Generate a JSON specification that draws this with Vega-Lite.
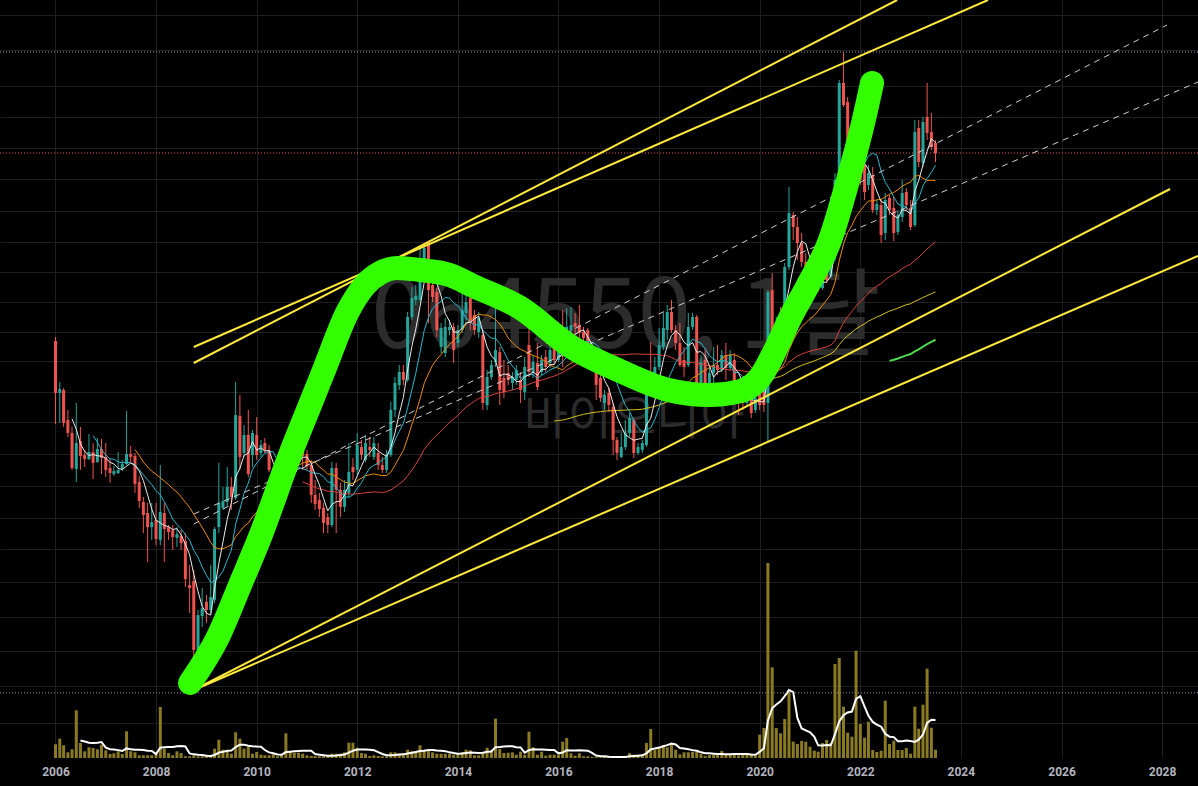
{
"$schema":"https://vega.github.io/schema/vega-lite/v6.json",
"width":1198,"height":758,
"autosize":{"type":"none"},
"padding":{"left":0,"top":0,"right":0,"bottom":28},
"background":"#000000",
"config":{"view":{"stroke":null},"scale":{"continuousPadding":0}},
"datasets":{
"k":[
{"d":"2006-01","o":18950,"h":19390,"l":11750,"c":14050,"v":6850},
{"d":"2006-02","o":14050,"h":14960,"l":11820,"c":14370,"v":9650},
{"d":"2006-03","o":14290,"h":14450,"l":11550,"c":11820,"v":6350},
{"d":"2006-04","o":12020,"h":12740,"l":10900,"c":11160,"v":2850},
{"d":"2006-05","o":11160,"h":11550,"l":9020,"c":9120,"v":4350},
{"d":"2006-06","o":9070,"h":13260,"l":8410,"c":10530,"v":23850},
{"d":"2006-07","o":10650,"h":11550,"l":9020,"c":9770,"v":7500},
{"d":"2006-08","o":9830,"h":10120,"l":9170,"c":9600,"v":3350},
{"d":"2006-09","o":9600,"h":11090,"l":9550,"c":10000,"v":5350},
{"d":"2006-10","o":10000,"h":10530,"l":8560,"c":9390,"v":5000},
{"d":"2006-11","o":9440,"h":10840,"l":9390,"c":10170,"v":4350},
{"d":"2006-12","o":10170,"h":10780,"l":8810,"c":9660,"v":6650},
{"d":"2007-01","o":9720,"h":10530,"l":8660,"c":9020,"v":3850},
{"d":"2007-02","o":9120,"h":9600,"l":8370,"c":8860,"v":2000},
{"d":"2007-03","o":8810,"h":9230,"l":8710,"c":8960,"v":2350},
{"d":"2007-04","o":8860,"h":10000,"l":8810,"c":9020,"v":3350},
{"d":"2007-05","o":9070,"h":9550,"l":8960,"c":9330,"v":2000},
{"d":"2007-06","o":9330,"h":12660,"l":9280,"c":9890,"v":13350},
{"d":"2007-07","o":9890,"h":10350,"l":9440,"c":9720,"v":3350},
{"d":"2007-08","o":9770,"h":9940,"l":7900,"c":8320,"v":2850},
{"d":"2007-09","o":8410,"h":8710,"l":7250,"c":7540,"v":1350},
{"d":"2007-10","o":7500,"h":7720,"l":6270,"c":6960,"v":1350},
{"d":"2007-11","o":7040,"h":7460,"l":5310,"c":6490,"v":1350},
{"d":"2007-12","o":6490,"h":7460,"l":6030,"c":6680,"v":1350},
{"d":"2008-01","o":6760,"h":7460,"l":5850,"c":6060,"v":2150},
{"d":"2008-02","o":6030,"h":9280,"l":5850,"c":7080,"v":25500},
{"d":"2008-03","o":7040,"h":7460,"l":5310,"c":6420,"v":4650},
{"d":"2008-04","o":6490,"h":6570,"l":6030,"c":6310,"v":2500},
{"d":"2008-05","o":6380,"h":6570,"l":5690,"c":6130,"v":1350},
{"d":"2008-06","o":6100,"h":6490,"l":5790,"c":6240,"v":3350},
{"d":"2008-07","o":6170,"h":6380,"l":5690,"c":5920,"v":2500},
{"d":"2008-08","o":5990,"h":6270,"l":4600,"c":4810,"v":850},
{"d":"2008-09","o":4650,"h":5220,"l":3960,"c":4570,"v":850},
{"d":"2008-10","o":4760,"h":5070,"l":2500,"c":3200,"v":1350},
{"d":"2008-11","o":3160,"h":4030,"l":3040,"c":3910,"v":850},
{"d":"2008-12","o":3890,"h":4570,"l":3650,"c":4070,"v":850},
{"d":"2009-01","o":4220,"h":4390,"l":3740,"c":4030,"v":850},
{"d":"2009-02","o":4030,"h":5220,"l":3940,"c":4340,"v":1150},
{"d":"2009-03","o":4270,"h":6490,"l":4190,"c":6420,"v":4650},
{"d":"2009-04","o":6490,"h":9390,"l":6270,"c":7460,"v":9150},
{"d":"2009-05","o":7250,"h":8180,"l":7160,"c":7540,"v":4150},
{"d":"2009-06","o":7500,"h":9170,"l":7290,"c":8180,"v":4150},
{"d":"2009-07","o":8180,"h":8660,"l":7160,"c":7720,"v":2150},
{"d":"2009-08","o":7670,"h":14960,"l":7590,"c":12370,"v":12850},
{"d":"2009-09","o":12300,"h":13880,"l":9020,"c":9720,"v":9650},
{"d":"2009-10","o":9940,"h":11680,"l":9720,"c":11030,"v":4650},
{"d":"2009-11","o":11030,"h":12740,"l":8660,"c":8810,"v":5500},
{"d":"2009-12","o":9830,"h":11350,"l":9170,"c":11160,"v":2150},
{"d":"2010-01","o":11030,"h":12230,"l":9550,"c":9830,"v":3000},
{"d":"2010-02","o":9940,"h":10720,"l":9720,"c":10410,"v":1650},
{"d":"2010-03","o":10530,"h":10840,"l":9940,"c":10060,"v":1350},
{"d":"2010-04","o":10120,"h":10410,"l":8910,"c":9020,"v":1350},
{"d":"2010-05","o":8910,"h":9170,"l":7290,"c":7720,"v":1850},
{"d":"2010-06","o":7810,"h":8370,"l":7160,"c":7460,"v":850},
{"d":"2010-07","o":7590,"h":8510,"l":7370,"c":8130,"v":1350},
{"d":"2010-08","o":8040,"h":11030,"l":7900,"c":9170,"v":12350},
{"d":"2010-09","o":9170,"h":9940,"l":9020,"c":9550,"v":3000},
{"d":"2010-10","o":9390,"h":10900,"l":9020,"c":10350,"v":2650},
{"d":"2010-11","o":10410,"h":10840,"l":9280,"c":9660,"v":2650},
{"d":"2010-12","o":10000,"h":11480,"l":9020,"c":9770,"v":2150},
{"d":"2011-01","o":9890,"h":10120,"l":9020,"c":9230,"v":1350},
{"d":"2011-02","o":9280,"h":9550,"l":7460,"c":7810,"v":1000},
{"d":"2011-03","o":7810,"h":8510,"l":7160,"c":7410,"v":1000},
{"d":"2011-04","o":7590,"h":7900,"l":6880,"c":7200,"v":850},
{"d":"2011-05","o":7250,"h":7460,"l":6270,"c":6650,"v":850},
{"d":"2011-06","o":6880,"h":7040,"l":6270,"c":6570,"v":1000},
{"d":"2011-07","o":6570,"h":9440,"l":6490,"c":9120,"v":2150},
{"d":"2011-08","o":9120,"h":9390,"l":6270,"c":8040,"v":2150},
{"d":"2011-09","o":8040,"h":8370,"l":6880,"c":7290,"v":2150},
{"d":"2011-10","o":7290,"h":8510,"l":7080,"c":8040,"v":2850},
{"d":"2011-11","o":7900,"h":10530,"l":7720,"c":8910,"v":7650},
{"d":"2011-12","o":9170,"h":9660,"l":8510,"c":8910,"v":7650},
{"d":"2012-01","o":9020,"h":11160,"l":8760,"c":10410,"v":5150},
{"d":"2012-02","o":10290,"h":10720,"l":9550,"c":9830,"v":2500},
{"d":"2012-03","o":9550,"h":11030,"l":9440,"c":10530,"v":2150},
{"d":"2012-04","o":10290,"h":10900,"l":9720,"c":10120,"v":1000},
{"d":"2012-05","o":9720,"h":10900,"l":9550,"c":10530,"v":1350},
{"d":"2012-06","o":9940,"h":10530,"l":9020,"c":9280,"v":1000},
{"d":"2012-07","o":9280,"h":9720,"l":8860,"c":9020,"v":850},
{"d":"2012-08","o":9020,"h":10120,"l":8860,"c":9830,"v":850},
{"d":"2012-09","o":9830,"h":13340,"l":9720,"c":12740,"v":2850},
{"d":"2012-10","o":12740,"h":15400,"l":12230,"c":14880,"v":2850},
{"d":"2012-11","o":14710,"h":16500,"l":14290,"c":15850,"v":2150},
{"d":"2012-12","o":15850,"h":16500,"l":14710,"c":15140,"v":2150},
{"d":"2013-01","o":15140,"h":22390,"l":14960,"c":21750,"v":4150},
{"d":"2013-02","o":21750,"h":25850,"l":21380,"c":24270,"v":3350},
{"d":"2013-03","o":23990,"h":26150,"l":23310,"c":24550,"v":3350},
{"d":"2013-04","o":23990,"h":32920,"l":23580,"c":29680,"v":6350},
{"d":"2013-05","o":29010,"h":33300,"l":28510,"c":32360,"v":4150},
{"d":"2013-06","o":33500,"h":33500,"l":21010,"c":25410,"v":4150},
{"d":"2013-07","o":26150,"h":27380,"l":23710,"c":24410,"v":2850},
{"d":"2013-08","o":25120,"h":25700,"l":19390,"c":20180,"v":2150},
{"d":"2013-09","o":18300,"h":21010,"l":17680,"c":20420,"v":2150},
{"d":"2013-10","o":17680,"h":21630,"l":17280,"c":20540,"v":2150},
{"d":"2013-11","o":20180,"h":21380,"l":19610,"c":20540,"v":2150},
{"d":"2013-12","o":20540,"h":21010,"l":16690,"c":17990,"v":1650},
{"d":"2014-01","o":18730,"h":20770,"l":18300,"c":20180,"v":2150},
{"d":"2014-02","o":20180,"h":25120,"l":19840,"c":22650,"v":3000},
{"d":"2014-03","o":22260,"h":25410,"l":21380,"c":23710,"v":4150},
{"d":"2014-04","o":24270,"h":24690,"l":20180,"c":21010,"v":3850},
{"d":"2014-05","o":22000,"h":22650,"l":19610,"c":20180,"v":1350},
{"d":"2014-06","o":19950,"h":22390,"l":19280,"c":21630,"v":1350},
{"d":"2014-07","o":19610,"h":20180,"l":12740,"c":13260,"v":2850},
{"d":"2014-08","o":13110,"h":16030,"l":12740,"c":15400,"v":5150},
{"d":"2014-09","o":15400,"h":16980,"l":15140,"c":16500,"v":3850},
{"d":"2014-10","o":16790,"h":24980,"l":16310,"c":17990,"v":19650},
{"d":"2014-11","o":17780,"h":18300,"l":13110,"c":14290,"v":4500},
{"d":"2014-12","o":15310,"h":16980,"l":13650,"c":14130,"v":2500},
{"d":"2015-01","o":15760,"h":16500,"l":14710,"c":15140,"v":2650},
{"d":"2015-02","o":14880,"h":15850,"l":14290,"c":15400,"v":2850},
{"d":"2015-03","o":15140,"h":16500,"l":14710,"c":16030,"v":1650},
{"d":"2015-04","o":15140,"h":15850,"l":13260,"c":14290,"v":3150},
{"d":"2015-05","o":14130,"h":17280,"l":13490,"c":16310,"v":1650},
{"d":"2015-06","o":18510,"h":21140,"l":15400,"c":15850,"v":13150},
{"d":"2015-07","o":15760,"h":17480,"l":15310,"c":16790,"v":5350},
{"d":"2015-08","o":16690,"h":18730,"l":14290,"c":14540,"v":1650},
{"d":"2015-09","o":15850,"h":17480,"l":15580,"c":16980,"v":3150},
{"d":"2015-10","o":17280,"h":17990,"l":15850,"c":16310,"v":1150},
{"d":"2015-11","o":16690,"h":18510,"l":16220,"c":17990,"v":1650},
{"d":"2015-12","o":18510,"h":19060,"l":16500,"c":16980,"v":1650},
{"d":"2016-01","o":16980,"h":18730,"l":16790,"c":18300,"v":1650},
{"d":"2016-02","o":18840,"h":22650,"l":16310,"c":18300,"v":8150},
{"d":"2016-03","o":18300,"h":22910,"l":17990,"c":20540,"v":10000},
{"d":"2016-04","o":20180,"h":23040,"l":19840,"c":20770,"v":2350},
{"d":"2016-05","o":21010,"h":22260,"l":19610,"c":20540,"v":1150},
{"d":"2016-06","o":20770,"h":23310,"l":18840,"c":19840,"v":2350},
{"d":"2016-07","o":19950,"h":20540,"l":18840,"c":19280,"v":850},
{"d":"2016-08","o":20180,"h":20420,"l":16310,"c":16500,"v":850},
{"d":"2016-09","o":17180,"h":17990,"l":16220,"c":16790,"v":500},
{"d":"2016-10","o":16310,"h":16690,"l":13490,"c":14710,"v":500},
{"d":"2016-11","o":15310,"h":16220,"l":13340,"c":13650,"v":350},
{"d":"2016-12","o":13260,"h":14290,"l":12740,"c":13880,"v":500},
{"d":"2017-01","o":14050,"h":14450,"l":12590,"c":13110,"v":500},
{"d":"2017-02","o":12960,"h":13260,"l":9830,"c":10720,"v":500},
{"d":"2017-03","o":10720,"h":10900,"l":9550,"c":9940,"v":500},
{"d":"2017-04","o":9720,"h":11160,"l":9660,"c":10290,"v":850},
{"d":"2017-05","o":10290,"h":12020,"l":10120,"c":11160,"v":500},
{"d":"2017-06","o":11160,"h":12520,"l":10900,"c":12160,"v":2500},
{"d":"2017-07","o":12020,"h":12160,"l":9660,"c":9940,"v":1650},
{"d":"2017-08","o":9940,"h":10530,"l":9830,"c":10290,"v":1650},
{"d":"2017-09","o":10120,"h":10720,"l":9940,"c":10530,"v":1650},
{"d":"2017-10","o":10410,"h":15850,"l":10290,"c":15490,"v":7500},
{"d":"2017-11","o":15850,"h":18840,"l":13880,"c":14450,"v":14500},
{"d":"2017-12","o":14290,"h":17280,"l":14050,"c":16310,"v":4150},
{"d":"2018-01","o":16310,"h":20420,"l":16030,"c":18510,"v":5350},
{"d":"2018-02","o":18300,"h":22260,"l":17990,"c":20420,"v":6500},
{"d":"2018-03","o":20180,"h":23310,"l":19060,"c":22390,"v":5350},
{"d":"2018-04","o":22390,"h":23990,"l":19840,"c":20180,"v":7350},
{"d":"2018-05","o":20180,"h":20770,"l":17990,"c":18730,"v":4150},
{"d":"2018-06","o":18730,"h":21010,"l":16310,"c":16500,"v":1850},
{"d":"2018-07","o":16980,"h":18300,"l":15400,"c":16310,"v":2850},
{"d":"2018-08","o":16500,"h":22260,"l":16310,"c":20540,"v":2850},
{"d":"2018-09","o":20540,"h":22260,"l":20180,"c":21750,"v":3150},
{"d":"2018-10","o":21750,"h":22000,"l":13260,"c":13720,"v":3000},
{"d":"2018-11","o":13720,"h":17480,"l":13490,"c":16790,"v":2000},
{"d":"2018-12","o":16980,"h":18200,"l":13490,"c":14130,"v":1000},
{"d":"2019-01","o":14130,"h":16220,"l":13880,"c":15760,"v":1500},
{"d":"2019-02","o":15760,"h":18300,"l":14880,"c":16500,"v":1500},
{"d":"2019-03","o":16500,"h":18510,"l":15580,"c":16030,"v":1850},
{"d":"2019-04","o":16030,"h":17990,"l":15850,"c":17480,"v":3500},
{"d":"2019-05","o":17480,"h":18730,"l":15140,"c":16220,"v":2000},
{"d":"2019-06","o":16220,"h":17990,"l":16030,"c":17480,"v":1850},
{"d":"2019-07","o":16980,"h":17680,"l":13880,"c":14050,"v":1850},
{"d":"2019-08","o":14050,"h":15140,"l":12370,"c":13490,"v":1350},
{"d":"2019-09","o":13490,"h":14710,"l":12740,"c":13260,"v":1650},
{"d":"2019-10","o":13260,"h":14710,"l":13110,"c":14290,"v":1650},
{"d":"2019-11","o":14050,"h":14450,"l":12160,"c":12520,"v":1650},
{"d":"2019-12","o":12740,"h":14050,"l":12520,"c":13650,"v":1350},
{"d":"2020-01","o":14130,"h":14710,"l":12740,"c":13110,"v":11650},
{"d":"2020-02","o":14290,"h":15140,"l":12590,"c":13110,"v":15000},
{"d":"2020-03","o":13260,"h":25410,"l":10530,"c":25120,"v":97500},
{"d":"2020-04","o":25410,"h":28020,"l":19060,"c":19390,"v":45350},
{"d":"2020-05","o":19390,"h":21750,"l":18300,"c":20180,"v":15000},
{"d":"2020-06","o":21380,"h":23040,"l":19500,"c":19840,"v":12350},
{"d":"2020-07","o":19060,"h":29680,"l":18510,"c":29010,"v":19500},
{"d":"2020-08","o":29010,"h":45970,"l":28510,"c":39580,"v":32850},
{"d":"2020-09","o":39130,"h":39810,"l":33880,"c":36520,"v":8150},
{"d":"2020-10","o":36520,"h":38680,"l":30200,"c":33300,"v":7000},
{"d":"2020-11","o":33300,"h":35280,"l":29010,"c":29860,"v":8500},
{"d":"2020-12","o":29860,"h":31440,"l":25410,"c":26610,"v":8150},
{"d":"2021-01","o":28510,"h":29340,"l":25850,"c":26460,"v":5650},
{"d":"2021-02","o":29010,"h":30200,"l":24980,"c":25410,"v":3650},
{"d":"2021-03","o":27230,"h":28020,"l":25120,"c":25700,"v":3150},
{"d":"2021-04","o":25700,"h":30730,"l":25410,"c":28510,"v":7500},
{"d":"2021-05","o":31080,"h":33880,"l":26460,"c":26920,"v":9000},
{"d":"2021-06","o":27540,"h":32920,"l":27230,"c":31080,"v":7500},
{"d":"2021-07","o":31080,"h":49830,"l":30730,"c":47860,"v":47000},
{"d":"2021-08","o":47860,"h":85110,"l":47050,"c":83660,"v":50000},
{"d":"2021-09","o":83660,"h":100000,"l":72860,"c":73700,"v":25650},
{"d":"2021-10","o":74990,"h":77180,"l":56890,"c":58550,"v":12650},
{"d":"2021-11","o":62010,"h":64940,"l":52180,"c":55270,"v":10650},
{"d":"2021-12","o":50700,"h":65690,"l":47860,"c":56890,"v":53650},
{"d":"2022-01","o":59230,"h":61310,"l":46500,"c":47860,"v":17000},
{"d":"2022-02","o":52180,"h":56890,"l":42660,"c":44670,"v":10150},
{"d":"2022-03","o":46500,"h":52180,"l":45190,"c":49830,"v":18150},
{"d":"2022-04","o":49260,"h":51580,"l":39580,"c":40270,"v":4000},
{"d":"2022-05","o":40270,"h":42660,"l":39130,"c":41690,"v":3000},
{"d":"2022-06","o":41450,"h":42660,"l":33300,"c":34870,"v":3650},
{"d":"2022-07","o":35280,"h":44410,"l":33880,"c":42660,"v":28650},
{"d":"2022-08","o":43150,"h":43900,"l":39130,"c":40270,"v":7000},
{"d":"2022-09","o":40740,"h":43400,"l":33690,"c":35280,"v":8650},
{"d":"2022-10","o":35480,"h":40270,"l":34870,"c":39130,"v":4000},
{"d":"2022-11","o":38680,"h":47860,"l":37590,"c":44410,"v":4000},
{"d":"2022-12","o":44670,"h":45710,"l":40270,"c":41450,"v":5000},
{"d":"2023-01","o":40740,"h":42660,"l":35890,"c":36520,"v":2150},
{"d":"2023-02","o":36940,"h":67610,"l":36520,"c":63100,"v":25650},
{"d":"2023-03","o":64570,"h":67610,"l":51580,"c":53090,"v":14650},
{"d":"2023-04","o":52790,"h":68790,"l":51580,"c":66840,"v":26650},
{"d":"2023-05","o":68790,"h":83660,"l":60260,"c":62740,"v":44650},
{"d":"2023-06","o":63100,"h":70390,"l":56890,"c":57880,"v":15150},
{"d":"2023-07","o":59230,"h":60260,"l":53090,"c":55910,"v":4150}
],
"lines":[
{"d":"2008-10-01","d2":"2022-09-25","p":16691,"p2":134896,"k":"trend"},
{"d":"2008-10-01","d2":"2024-07-16","p":18302,"p2":134896,"k":"trend"},
{"d":"2008-10-01","d2":"2028-02-28","p":2541,"p2":45446,"k":"trend"},
{"d":"2008-10-01","d2":"2028-09-18","p":2541,"p2":30903,"k":"trend"},
{"d":"2008-10-01","d2":"2028-02-06","p":6607,"p2":116815,"k":"channel"},
{"d":"2008-10-01","d2":"2028-09-18","p":6998,"p2":84140,"k":"channel"}
],
"curve":[
{"d":"2008-09-04","p":2646},{"d":"2009-03-26","p":3447},{"d":"2009-09-02","p":4650},{"d":"2010-01-25","p":6130},
{"d":"2010-08-31","p":9830},{"d":"2011-01-23","p":13110},{"d":"2011-05-05","p":16030},{"d":"2011-10-19","p":22260},
{"d":"2012-02-26","p":26150},{"d":"2012-06-14","p":28020},{"d":"2012-10-16","p":28840},{"d":"2013-04-01","p":28510},
{"d":"2013-11-05","p":27700},{"d":"2014-04-23","p":26000},{"d":"2015-04-01","p":22900},{"d":"2016-03-25","p":18400},
{"d":"2017-03-23","p":15950},{"d":"2018-03-10","p":14290},{"d":"2018-12-31","p":13880},{"d":"2019-08-08","p":14180},
{"d":"2020-01-06","p":15400},{"d":"2020-05-04","p":18300},{"d":"2020-08-09","p":21630},{"d":"2020-12-10","p":25850},
{"d":"2021-05-26","p":33880},{"d":"2021-10-18","p":49830},{"d":"2022-01-21","p":66450},{"d":"2022-03-27","p":83660}
],
"levels":[{"p":100000,"k":"high"},{"p":2500,"k":"low"},{"p":55910,"k":"last"}],
"marks":[{"d":"2017-05-06","p":21500,"t":"064550, 1달"},{"d":"2017-07-03","p":12023,"t":"바이오니아"}]
},
"layer":[
{"layer":[
 {"data":{"name":"k"},
  "mark":{"type":"bar","size":3,"color":"#8a7b22"},
  "encoding":{
   "x":{"field":"d","type":"temporal","title":null,
        "scale":{"type":"utc","padding":0,"domain":[{"year":2004,"month":11,"date":24,"utc":true},{"year":2028,"month":9,"date":18,"utc":true}]},
        "axis":{"tickCount":{"interval":"year","step":2},"format":"%Y","labelColor":"#b2b5be","labelFont":"Roboto","labelFontSize":12,"labelFontWeight":"bold","ticks":false,"domain":false,"grid":true,"gridColor":"#1f1f1f","gridWidth":1,"labelPadding":8,"labelFlush":false,"labelOverlap":false,"title":null}},
   "y":{"field":"v","type":"quantitative","title":null,"scale":{"domain":[0,379000],"nice":false},"axis":null}}},
 {"data":{"name":"k"},
  "transform":[{"window":[{"op":"mean","field":"v","as":"m"},{"op":"count","as":"n"}],"frame":[-6,0],"sort":[{"field":"d"}]},{"filter":"datum.n >= 7"}],
  "mark":{"type":"line","color":"#ffffff","strokeWidth":2},
  "encoding":{
   "x":{"field":"d","type":"temporal","title":null,"scale":{"type":"utc","padding":0,"domain":[{"year":2004,"month":11,"date":24,"utc":true},{"year":2028,"month":9,"date":18,"utc":true}]}},
   "y":{"field":"m","type":"quantitative","title":null,"scale":{"domain":[0,379000],"nice":false},"axis":null}}}
]},
{"layer":[
 {"data":{"name":"marks"},
  "transform":[{"filter":"length(datum.t) > 5"}],
  "mark":{"type":"text","font":"Noto Sans CJK KR","fontSize":96,"color":"#2c2c2c","align":"center","baseline":"middle"},
  "encoding":{
   "x":{"field":"d","type":"temporal","title":null,"scale":{"type":"utc","padding":0,"domain":[{"year":2004,"month":11,"date":24,"utc":true},{"year":2028,"month":9,"date":18,"utc":true}]}},
   "y":{"field":"p","type":"quantitative","title":null,"scale":{"type":"log","domain":[1718,134896],"nice":false,"zero":false},
        "axis":{"orient":"right","labels":false,"ticks":false,"domain":false,"grid":true,"gridColor":"#1f1f1f","gridWidth":1,"title":null,
                "values":[123740,101158,82224,68786,57544,48139,40040,33497,28184,23714,19953,16882,14125,11885,9886,8222,6839,5722,4732,3870,3181,2600,2101]}},
   "text":{"field":"t"}}},
 {"data":{"name":"marks"},
  "transform":[{"filter":"length(datum.t) <= 5"}],
  "mark":{"type":"text","font":"Noto Sans CJK KR","fontSize":48,"color":"#2c2c2c","align":"center","baseline":"middle"},
  "encoding":{
   "x":{"field":"d","type":"temporal","title":null,"scale":{"type":"utc","padding":0,"domain":[{"year":2004,"month":11,"date":24,"utc":true},{"year":2028,"month":9,"date":18,"utc":true}]}},
   "y":{"field":"p","type":"quantitative","title":null,"scale":{"type":"log","domain":[1718,134896],"nice":false,"zero":false}},
   "text":{"field":"t"}}},
 {"data":{"name":"levels"},
  "mark":{"type":"rule","strokeDash":[1,2],"strokeWidth":1},
  "encoding":{
   "y":{"field":"p","type":"quantitative","title":null,"scale":{"type":"log","domain":[1718,134896],"nice":false,"zero":false}},
   "color":{"condition":{"test":"datum.k == 'last'","value":"#f0524f"},"value":"#9598a1"}}},
 {"data":{"name":"k"},
  "mark":{"type":"rule","strokeWidth":1},
  "encoding":{
   "x":{"field":"d","type":"temporal","title":null,"scale":{"type":"utc","padding":0,"domain":[{"year":2004,"month":11,"date":24,"utc":true},{"year":2028,"month":9,"date":18,"utc":true}]}},
   "y":{"field":"l","type":"quantitative","title":null,"scale":{"type":"log","domain":[1718,134896],"nice":false,"zero":false}},
   "y2":{"field":"h"},
   "color":{"condition":{"test":"datum.c >= datum.o","value":"#26a69a"},"value":"#ef5350"}}},
 {"data":{"name":"k"},
  "mark":{"type":"bar","size":3},
  "encoding":{
   "x":{"field":"d","type":"temporal","title":null,"scale":{"type":"utc","padding":0,"domain":[{"year":2004,"month":11,"date":24,"utc":true},{"year":2028,"month":9,"date":18,"utc":true}]}},
   "y":{"field":"o","type":"quantitative","title":null,"scale":{"type":"log","domain":[1718,134896],"nice":false,"zero":false}},
   "y2":{"field":"c"},
   "color":{"condition":{"test":"datum.c >= datum.o","value":"#26a69a"},"value":"#ef5350"}}},
 {"data":{"name":"k"},
  "transform":[{"window":[{"op":"mean","field":"c","as":"m"},{"op":"count","as":"n"}],"frame":[-199,0],"sort":[{"field":"d"}]},{"filter":"datum.n >= 200"}],
  "mark":{"type":"line","color":"#4cd94c","strokeWidth":2},
  "encoding":{
   "x":{"field":"d","type":"temporal","title":null,"scale":{"type":"utc","padding":0,"domain":[{"year":2004,"month":11,"date":24,"utc":true},{"year":2028,"month":9,"date":18,"utc":true}]}},
   "y":{"field":"m","type":"quantitative","title":null,"scale":{"type":"log","domain":[1718,134896],"nice":false,"zero":false}}}},
 {"data":{"name":"k"},
  "transform":[{"window":[{"op":"mean","field":"c","as":"m"},{"op":"count","as":"n"}],"frame":[-119,0],"sort":[{"field":"d"}]},{"filter":"datum.n >= 120"}],
  "mark":{"type":"line","color":"#d6c21e","strokeWidth":1},
  "encoding":{
   "x":{"field":"d","type":"temporal","title":null,"scale":{"type":"utc","padding":0,"domain":[{"year":2004,"month":11,"date":24,"utc":true},{"year":2028,"month":9,"date":18,"utc":true}]}},
   "y":{"field":"m","type":"quantitative","title":null,"scale":{"type":"log","domain":[1718,134896],"nice":false,"zero":false}}}},
 {"data":{"name":"k"},
  "transform":[{"window":[{"op":"mean","field":"c","as":"m"},{"op":"count","as":"n"}],"frame":[-59,0],"sort":[{"field":"d"}]},{"filter":"datum.n >= 60"}],
  "mark":{"type":"line","color":"#d9423c","strokeWidth":1},
  "encoding":{
   "x":{"field":"d","type":"temporal","title":null,"scale":{"type":"utc","padding":0,"domain":[{"year":2004,"month":11,"date":24,"utc":true},{"year":2028,"month":9,"date":18,"utc":true}]}},
   "y":{"field":"m","type":"quantitative","title":null,"scale":{"type":"log","domain":[1718,134896],"nice":false,"zero":false}}}},
 {"data":{"name":"k"},
  "transform":[{"window":[{"op":"mean","field":"c","as":"m"},{"op":"count","as":"n"}],"frame":[-19,0],"sort":[{"field":"d"}]},{"filter":"datum.n >= 20"}],
  "mark":{"type":"line","color":"#f08c00","strokeWidth":1},
  "encoding":{
   "x":{"field":"d","type":"temporal","title":null,"scale":{"type":"utc","padding":0,"domain":[{"year":2004,"month":11,"date":24,"utc":true},{"year":2028,"month":9,"date":18,"utc":true}]}},
   "y":{"field":"m","type":"quantitative","title":null,"scale":{"type":"log","domain":[1718,134896],"nice":false,"zero":false}}}},
 {"data":{"name":"k"},
  "transform":[{"window":[{"op":"mean","field":"c","as":"m"},{"op":"count","as":"n"}],"frame":[-9,0],"sort":[{"field":"d"}]},{"filter":"datum.n >= 10"}],
  "mark":{"type":"line","color":"#26b8cc","strokeWidth":1},
  "encoding":{
   "x":{"field":"d","type":"temporal","title":null,"scale":{"type":"utc","padding":0,"domain":[{"year":2004,"month":11,"date":24,"utc":true},{"year":2028,"month":9,"date":18,"utc":true}]}},
   "y":{"field":"m","type":"quantitative","title":null,"scale":{"type":"log","domain":[1718,134896],"nice":false,"zero":false}}}},
 {"data":{"name":"k"},
  "transform":[{"window":[{"op":"mean","field":"c","as":"m"},{"op":"count","as":"n"}],"frame":[-4,0],"sort":[{"field":"d"}]},{"filter":"datum.n >= 5"}],
  "mark":{"type":"line","color":"#ececec","strokeWidth":1},
  "encoding":{
   "x":{"field":"d","type":"temporal","title":null,"scale":{"type":"utc","padding":0,"domain":[{"year":2004,"month":11,"date":24,"utc":true},{"year":2028,"month":9,"date":18,"utc":true}]}},
   "y":{"field":"m","type":"quantitative","title":null,"scale":{"type":"log","domain":[1718,134896],"nice":false,"zero":false}}}},
 {"data":{"name":"lines"},
  "transform":[{"filter":"datum.k == 'channel'"}],
  "mark":{"type":"rule","color":"#d0d0d0","strokeWidth":1,"strokeDash":[6,5],"clip":true},
  "encoding":{
   "x":{"field":"d","type":"temporal","title":null,"scale":{"type":"utc","padding":0,"domain":[{"year":2004,"month":11,"date":24,"utc":true},{"year":2028,"month":9,"date":18,"utc":true}]}},
   "x2":{"field":"d2"},
   "y":{"field":"p","type":"quantitative","title":null,"scale":{"type":"log","domain":[1718,134896],"nice":false,"zero":false}},
   "y2":{"field":"p2"}}},
 {"data":{"name":"lines"},
  "transform":[{"filter":"datum.k == 'trend'"}],
  "mark":{"type":"rule","color":"#ffe93b","strokeWidth":2,"clip":true},
  "encoding":{
   "x":{"field":"d","type":"temporal","title":null,"scale":{"type":"utc","padding":0,"domain":[{"year":2004,"month":11,"date":24,"utc":true},{"year":2028,"month":9,"date":18,"utc":true}]}},
   "x2":{"field":"d2"},
   "y":{"field":"p","type":"quantitative","title":null,"scale":{"type":"log","domain":[1718,134896],"nice":false,"zero":false}},
   "y2":{"field":"p2"}}},
 {"data":{"name":"curve"},
  "mark":{"type":"line","color":"#33ff00","strokeWidth":24,"strokeCap":"round","strokeJoin":"round","interpolate":"monotone"},
  "encoding":{
   "x":{"field":"d","type":"temporal","title":null,"scale":{"type":"utc","padding":0,"domain":[{"year":2004,"month":11,"date":24,"utc":true},{"year":2028,"month":9,"date":18,"utc":true}]}},
   "y":{"field":"p","type":"quantitative","title":null,"scale":{"type":"log","domain":[1718,134896],"nice":false,"zero":false}}}}
]}
],
"resolve":{"scale":{"y":"independent"}}
}
